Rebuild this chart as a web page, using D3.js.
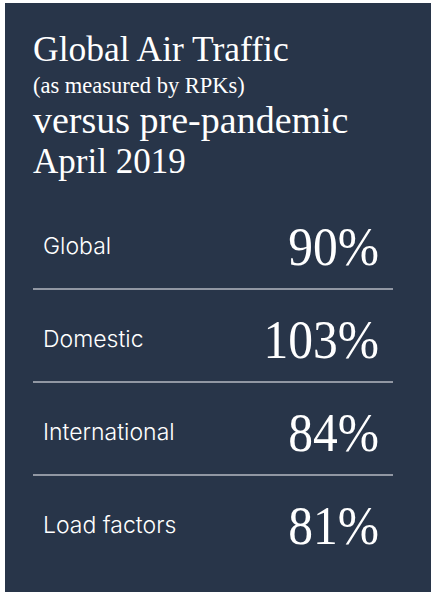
<!DOCTYPE html>
<html>
<head>
<meta charset="utf-8">
<script src="https://cdn.jsdelivr.net/npm/d3@7"></script>
<style>
  html, body { margin: 0; padding: 0; background: #ffffff; }
  svg { display: block; }
</style>
</head>
<body>
<div id="chart"></div>
<script>
// Data
var titleLines = ["Global Air Traffic", "(as measured by RPKs)", "versus pre-pandemic", "April 2019"];
var categories = ["Global", "Domestic", "International", "Load factors"];
var values = [90, 103, 84, 81];

var width = 432, height = 592;
var panel = { x: 5, y: 3, w: 426, h: 589 };
var left = 33, right = 393, valueRight = 379;

var svg = d3.select("#chart")
    .append("svg")
    .attr("width", width)
    .attr("height", height);

// background panel
svg.append("rect")
    .attr("x", panel.x)
    .attr("y", panel.y)
    .attr("width", panel.w)
    .attr("height", panel.h)
    .attr("fill", "#283549");

// title block
var titleSizes = [35.5, 22.5, 38, 35];
var titleY = [61, 93, 133, 173];
svg.selectAll("text.title")
    .data(titleLines)
    .enter()
    .append("text")
    .attr("class", "title")
    .attr("x", left)
    .attr("y", function (d, i) { return titleY[i]; })
    .style("font-family", "'Liberation Serif', 'DejaVu Serif', serif")
    .style("font-size", function (d, i) { return titleSizes[i] + "px"; })
    .style("fill", "#ffffff")
    .text(function (d) { return d; });

// rows
var rowY = d3.scalePoint()
    .domain(categories)
    .range([254, 533]);

var fmt = function (v) { return v + "%"; };

var rows = svg.selectAll("g.row")
    .data(categories)
    .enter()
    .append("g")
    .attr("class", "row")
    .attr("transform", function (d) { return "translate(0," + rowY(d) + ")"; });

rows.append("text")
    .attr("x", left + 10)
    .attr("y", 0)
    .style("font-family", "Inter, 'Open Sans', sans-serif")
    .style("font-weight", 300)
    .style("font-size", "23px")
    .style("fill", "#ffffff")
    .text(function (d) { return d; });

// big serif numbers, squeezed a bit to look taller
rows.append("text")
    .attr("transform", "translate(" + valueRight + ",11) scale(0.9,1)")
    .attr("text-anchor", "end")
    .style("font-family", "'Liberation Serif', 'DejaVu Serif', serif")
    .style("font-size", "55px")
    .style("fill", "#ffffff")
    .text(function (d, i) { return fmt(values[i]); });

// separators between rows
rows.filter(function (d, i) { return i < categories.length - 1; })
    .append("line")
    .attr("x1", left)
    .attr("x2", right)
    .attr("y1", 35)
    .attr("y2", 35)
    .attr("stroke", "#b4b9c2")
    .attr("stroke-width", 1.5);
</script>
</body>
</html>
